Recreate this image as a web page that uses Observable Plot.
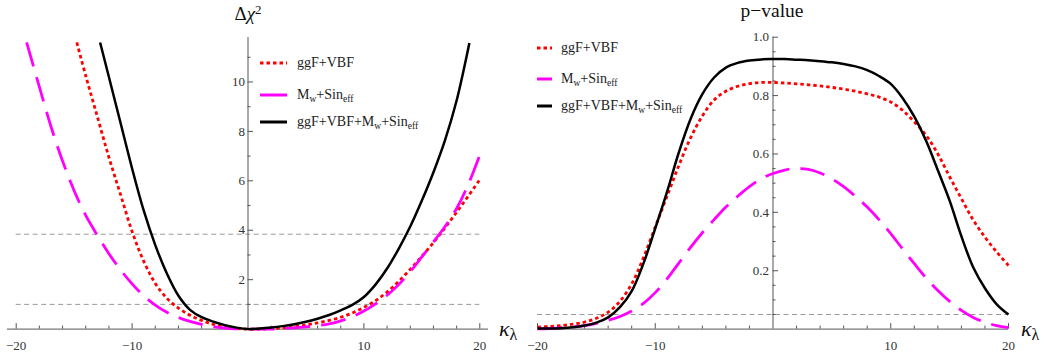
<!DOCTYPE html>
<html><head><meta charset="utf-8">
<script src="https://cdn.jsdelivr.net/npm/d3@7"></script>
<script src="https://cdn.jsdelivr.net/npm/@observablehq/plot@0.6"></script>
<style>
body{margin:0;background:#fff;font-family:"Liberation Serif","DejaVu Serif",serif;}
#wrap{position:relative;width:1047px;height:356px;overflow:hidden;background:#fff;}
.panel{position:absolute;top:0;}
.t{position:absolute;white-space:nowrap;color:#111;line-height:1;font-family:"Liberation Serif","DejaVu Serif",serif;}
.t sub{font-size:0.72em;vertical-align:-0.3em;line-height:0;}
.t sup{font-size:0.68em;vertical-align:0.5em;line-height:0;}
.leg{position:absolute;display:flex;align-items:center;white-space:nowrap;font-size:14px;color:#222;transform:translateY(-50%);font-family:"Liberation Serif","DejaVu Serif",serif;}
.leg sub{font-size:0.68em;vertical-align:-0.3em;line-height:0;}
.leg svg{display:block;flex:none;}
</style></head><body>
<div id="wrap">
  <div id="left" class="panel" style="left:0;width:520px;"></div>
  <div id="right" class="panel" style="left:520px;width:527px;"></div>
</div>
<script>
// ---------- data ----------
const seriesNames = ["ggF+VBF", "Mw+Sineff", "ggF+VBF+Mw+Sineff"];
const seriesColors = ["#ff0000", "#ff00ff", "#000000"];

// Delta chi^2 panel
const chiRedK = [-14.77,-14,-13,-12,-11,-10,-9,-8,-7,-6,-5,-4,-3,-2,-1,0,1,2,3,4,5,6,7,8,9,10,11,12,13,14,15,16,17,18,19,20];
const chiRedV = [11.6,10.25,8.6,6.95,5.45,3.95,2.75,1.85,1.25,0.85,0.56,0.35,0.19,0.08,0.02,0.0,0.0,0.02,0.05,0.1,0.17,0.25,0.35,0.48,0.65,0.88,1.15,1.5,1.93,2.42,2.95,3.5,4.1,4.73,5.38,6.05];

const chiMagK = [-19.1,-18,-17,-16,-15,-14,-13,-12,-11,-10,-9,-8,-7,-6,-5,-4,-3,-2,-1,0,1,2,3,4,5,6,7,8,9,10,11,12,13,14,15,16,17,18,19,20];
const chiMagV = [11.6,9.8,8.2,6.8,5.6,4.6,3.8,3.05,2.4,1.83,1.35,0.97,0.68,0.47,0.31,0.19,0.1,0.045,0.012,0.0,0.0,0.0,0.02,0.05,0.09,0.14,0.21,0.33,0.5,0.73,1.02,1.37,1.8,2.33,2.92,3.53,4.15,4.88,5.85,7.05];

const chiBlkK = [-12.76,-12,-11,-10,-9,-8,-7,-6,-5,-4,-3,-2,-1,0,1,2,3,4,5,6,7,8,9,10,11,12,13,14,15,16,17,18,19,19.1];
const chiBlkV = [11.6,10.2,8.35,6.5,4.8,3.4,2.25,1.35,0.78,0.48,0.3,0.16,0.06,0.0,0.02,0.06,0.12,0.2,0.3,0.42,0.57,0.76,0.98,1.3,1.8,2.45,3.25,4.15,5.2,6.35,7.65,9.25,11.35,11.58];

const chiThresholds = [1, 3.84];
const chiMajorTicks = [2, 4, 6, 8, 10];
const chiMinorTicks = [1, 3, 5, 7, 9, 11];

// p-value panel
const pK = [-20,-19,-18,-17,-16,-15,-14,-13,-12,-11,-10,-9,-8,-7,-6,-5,-4,-3,-2,-1,0,1,2,3,4,5,6,7,8,9,10,11,12,13,14,15,16,17,18,19,20];
const pRed = [0.007,0.009,0.012,0.017,0.024,0.037,0.058,0.095,0.155,0.245,0.35,0.455,0.56,0.655,0.73,0.785,0.815,0.832,0.841,0.845,0.845,0.843,0.84,0.837,0.833,0.828,0.822,0.815,0.806,0.795,0.778,0.75,0.71,0.664,0.6,0.522,0.447,0.374,0.315,0.264,0.218];
const pMag = [0.001,0.002,0.004,0.007,0.012,0.02,0.03,0.043,0.062,0.088,0.125,0.172,0.226,0.28,0.33,0.375,0.418,0.455,0.488,0.515,0.533,0.545,0.55,0.547,0.535,0.515,0.488,0.455,0.418,0.375,0.327,0.275,0.224,0.175,0.132,0.095,0.064,0.04,0.023,0.012,0.005];
const pBlk = [0.002,0.002,0.003,0.006,0.012,0.022,0.04,0.075,0.13,0.225,0.345,0.47,0.605,0.72,0.805,0.862,0.896,0.912,0.92,0.924,0.925,0.925,0.923,0.921,0.918,0.914,0.908,0.9,0.887,0.867,0.84,0.792,0.728,0.645,0.544,0.44,0.318,0.212,0.14,0.085,0.05];

const pThresholds = [0.05];
const pMajorTicks = [0.2, 0.4, 0.6, 0.8, 1.0];
const pMinorTicks = [0.05,0.1,0.15,0.25,0.3,0.35,0.45,0.5,0.55,0.65,0.7,0.75,0.85,0.9,0.95];

const kMajorTicks = [-20, -10, 10, 20];
const kMinorTicks = [-18,-16,-14,-12,-8,-6,-4,-2,2,4,6,8,12,14,16,18];
const kRange = [-20, 20];

// ---------- helpers ----------
const axisColor = "#555";
const labelColor = "#333";
const fontFamily = "'Liberation Serif','DejaVu Serif',serif";
const styles = [
  {strokeWidth: 2.8, strokeDasharray: "3.5,3"},
  {strokeWidth: 2.8, strokeDasharray: "25,11"},
  {strokeWidth: 2.5, strokeDasharray: null}
];
const pairs = (ks, vs) => ks.map((k, i) => ({k, v: vs[i]}));
const fmtK = d => (d < 0 ? "\u2212" + Math.abs(d) : String(d));

function axisMarks(yMajor, yMinor, yFmt, yDx) {
  return [
    Plot.ruleY([0], {stroke: axisColor, strokeWidth: 1}),
    Plot.ruleX([0], {stroke: axisColor, strokeWidth: 1}),
    Plot.ruleX(kMajorTicks, {x: d => d, y1: 0, y2: 0, insetBottom: 5.5, stroke: axisColor}),
    Plot.ruleX(kMinorTicks, {x: d => d, y1: 0, y2: 0, insetBottom: 3, stroke: axisColor}),
    Plot.ruleY(yMajor, {y: d => d, x1: 0, x2: 0, insetRight: -5.5, stroke: axisColor}),
    Plot.ruleY(yMinor, {y: d => d, x1: 0, x2: 0, insetRight: -3, stroke: axisColor}),
    Plot.text(kMajorTicks, {x: d => d, y: 0, text: fmtK, dy: 17, fill: labelColor, fontSize: 13, fontFamily}),
    Plot.text(yMajor, {x: 0, y: d => d, text: yFmt, textAnchor: "end", dx: yDx, fill: labelColor, fontSize: 13, fontFamily})
  ];
}
function curveMarks(datasets) {
  return datasets.map((data, i) => Plot.line(data, {
    x: "k", y: "v", stroke: seriesColors[i], curve: "catmull-rom",
    strokeLinecap: "butt", strokeLinejoin: "round", ...styles[i]
  }));
}

// ---------- left: Delta chi^2 ----------
const leftPlot = Plot.plot({
  width: 520, height: 356,
  marginLeft: 7, marginRight: 32, marginTop: 37, marginBottom: 27.4,
  x: {domain: [-20.75, 20.75], axis: null},
  y: {domain: [0, 11.8], axis: null},
  style: {fontFamily, background: "transparent", overflow: "visible"},
  marks: [
    Plot.ruleY(chiThresholds, {y: d => d, x1: kRange[0], x2: kRange[1], stroke: "#999", strokeWidth: 1, strokeDasharray: "5,3.5"}),
    ...axisMarks(chiMajorTicks, chiMinorTicks, d => String(d), -3),
    ...curveMarks([pairs(chiRedK, chiRedV), pairs(chiMagK, chiMagV), pairs(chiBlkK, chiBlkV)])
  ]
});
document.getElementById("left").appendChild(leftPlot);

// ---------- right: p-value ----------
const rightPlot = Plot.plot({
  width: 527, height: 356,
  marginLeft: 17, marginRight: 39, marginTop: 36.7, marginBottom: 27.4,
  x: {domain: kRange, axis: null},
  y: {domain: [0, 1], axis: null},
  style: {fontFamily, background: "transparent", overflow: "visible"},
  marks: [
    Plot.ruleY(pThresholds, {y: d => d, x1: kRange[0], x2: kRange[1], stroke: "#999", strokeWidth: 1, strokeDasharray: "5,3.5"}),
    ...axisMarks(pMajorTicks, pMinorTicks, d => d.toFixed(1), -4),
    ...curveMarks([pairs(pK, pRed), pairs(pK, pMag), pairs(pK, pBlk)])
  ]
});
document.getElementById("right").appendChild(rightPlot);

// ---------- titles, axis labels, legends ----------
const wrap = document.getElementById("wrap");
function addText(html, css) {
  const d = document.createElement("div");
  d.className = "t";
  d.innerHTML = html;
  Object.assign(d.style, css);
  wrap.appendChild(d);
}
addText('\u0394<i>\u03c7</i><sup>2</sup>', {left: "248px", top: "4px", fontSize: "19px", transform: "translateX(-50%)"});
addText('p\u2212value', {left: "772px", top: "1px", fontSize: "19.5px", transform: "translateX(-50%)"});
const kLabel = '<span style="font-style:italic">\u03ba</span><sub style="font-size:16px;vertical-align:-4px">\u03bb</sub>';
addText(kLabel, {left: "499px", top: "318px", fontSize: "22px"});
addText(kLabel, {left: "1021px", top: "318px", fontSize: "22px"});

const legendHtml = ["ggF+VBF", "M<sub>w</sub>+Sin<sub>eff</sub>", "ggF+VBF+M<sub>w</sub>+Sin<sub>eff</sub>"];
function addLegend(x, ys, sampleW, gap) {
  ys.forEach((y, i) => {
    const row = document.createElement("div");
    row.className = "leg";
    row.style.left = x + "px";
    row.style.top = y + "px";
    const dash = i === 0 ? 'stroke-dasharray="3.5,3"' : '';
    row.innerHTML = `<svg width="${sampleW}" height="6"><line x1="0" y1="3" x2="${sampleW}" y2="3" stroke="${seriesColors[i]}" stroke-width="3" ${dash}/></svg><span style="margin-left:${gap}px">${legendHtml[i]}</span>`;
    wrap.appendChild(row);
  });
}
addLegend(260, [62.5, 95, 121.5], 27, 10);
addLegend(537, [48, 79, 106], 15, 9);
</script>
</body></html>
